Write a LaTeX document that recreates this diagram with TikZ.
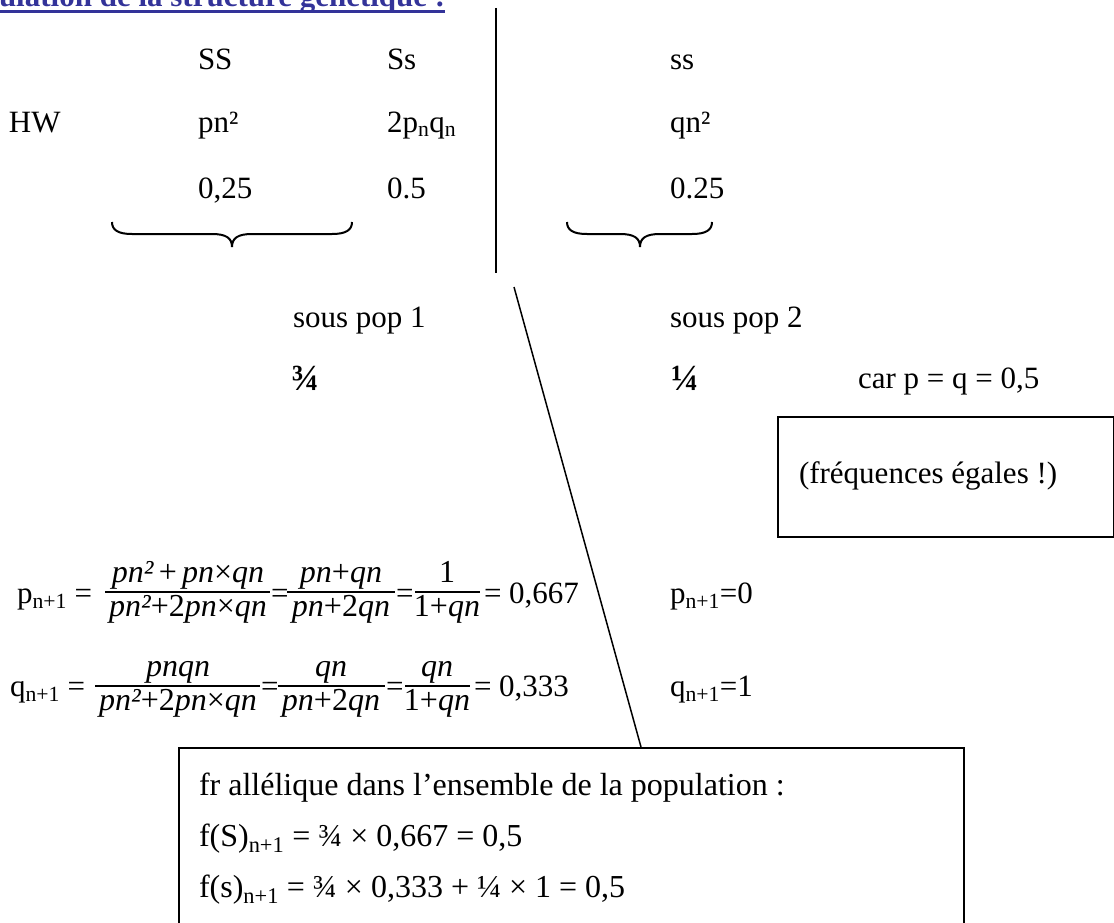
\documentclass[tikz,border=0pt]{standalone}
\usepackage{fontspec}
\setmainfont{Liberation Serif}
\definecolor{titleblue}{RGB}{51,51,153}
\tikzset{
  txt/.style={anchor=base west, inner sep=0pt, outer sep=0pt, font=\fontsize{31}{37}\selectfont},
  btxt/.style={anchor=base west, inner sep=0pt, outer sep=0pt, font=\fontsize{32}{38}\selectfont},
  fractxt/.style={anchor=base west, inner sep=0pt, outer sep=0pt, font=\fontsize{37}{44}\selectfont\bfseries},
  ctxt/.style={anchor=base, inner sep=0pt, outer sep=0pt, font=\fontsize{32}{38}\selectfont\itshape},
  fracbar/.style={line width=1.3pt},
  rule/.style={line width=2pt},
  thinrule/.style={line width=1.5pt},
  bracestyle/.style={line width=2pt},
  boxstyle/.style={draw, line width=2pt, inner sep=0pt, anchor=north west}
}
\begin{document}
\begin{tikzpicture}[x=1pt,y=-1pt]
\useasboundingbox (0,0) rectangle (1114,923);
\clip (0,0) rectangle (1114,923);

% title (cut at the top)
\node[txt, font=\fontsize{31}{37}\selectfont\bfseries, text=titleblue] (title) at (-1,7) {ulation de la structure génétique :};
\draw[titleblue, line width=2.6pt] ([yshift=-4.5pt]title.base west) -- ([yshift=-4.5pt]title.base east);

% vertical separator
\coordinate (vtop) at (496,8);
\coordinate (vbot) at (496,273);
\draw[rule] (vtop) -- (vbot);

% genotype table
\node[txt] (SS) at (198,70) {SS};
\node[txt] (Ss) at (387,70) {Ss};
\node[txt] (ss) at (670,70) {ss};
\node[txt] (HW) at (9,133) {HW};
\node[txt] (pn2) at (198,133) {pn²};
\node[txt] (2pq) at (387,133) {2p\textsubscript{n}q\textsubscript{n}};
\node[txt] (qn2) at (670,133) {qn²};
\node[txt] (v1) at (198,198) {0,25};
\node[txt] (v2) at (387,198) {0.5};
\node[txt] (v3) at (670,198) {0.25};

% braces
\draw[bracestyle] (112,222) .. controls (112,230) and (118,234) .. (132,234) -- (212,234)
  .. controls (226,234) and (232,238) .. (232,247)
  .. controls (232,238) and (238,234) .. (252,234) -- (332,234)
  .. controls (346,234) and (352,230) .. (352,222);
\draw[bracestyle] (567,222) .. controls (567,230) and (573,234) .. (587,234) -- (620,234)
  .. controls (634,234) and (640,238) .. (640,247)
  .. controls (640,238) and (646,234) .. (660,234) -- (692,234)
  .. controls (706,234) and (712,230) .. (712,222);

% sub-populations
\node[txt] (sp1) at (293,327) {sous pop 1};
\node[txt] (sp2) at (670,327) {sous pop 2};
\node[fractxt] (f34) at (291,390) {¾};
\node[fractxt] (f14) at (671,390) {¼};
\node[txt] (car) at (858,388) {car p = q = 0,5};

\node[boxstyle, minimum width=336pt, minimum height=120pt] (box1) at (777,416) {};
\node[txt] (freq) at (799,483) {(fréquences égales !)};

% p_{n+1} row
\node[txt] (pl) at (17,603) {p\textsubscript{n+1} =};
\coordinate (pa1) at (105,592); \coordinate (pb1) at (270,592);
\draw[fracbar] (pa1) -- (pb1);
\node[ctxt] (pn1) at (188,582) {pn²\,\upshape+\,\itshape pn\upshape×\itshape qn};
\node[ctxt] (pd1) at (188,616) {pn²\upshape+2\itshape pn\upshape×\itshape qn};
\node[txt] (pe1) at (271,603) {=};
\coordinate (pa2) at (287,592); \coordinate (pb2) at (395,592);
\draw[fracbar] (pa2) -- (pb2);
\node[ctxt] (pn2) at (341,582) {pn\upshape+\itshape qn};
\node[ctxt] (pd2) at (341,616) {pn\upshape+2\itshape qn};
\node[txt] (pe2) at (396,603) {=};
\coordinate (pa3) at (415,592); \coordinate (pb3) at (480,592);
\draw[fracbar] (pa3) -- (pb3);
\node[ctxt] (pn3) at (447,582) {\upshape 1};
\node[ctxt] (pd3) at (447,616) {\upshape 1+\itshape qn};
\node[txt] (pr) at (484,603) {= 0,667};
\node[txt] (p0) at (670,603) {p\textsubscript{n+1}=0};

% q_{n+1} row
\node[txt] (ql) at (10,696) {q\textsubscript{n+1} =};
\coordinate (qa1) at (95,686); \coordinate (qb1) at (260,686);
\draw[fracbar] (qa1) -- (qb1);
\node[ctxt] (qn1) at (178,676) {pnqn};
\node[ctxt] (qd1) at (178,710) {pn²\upshape+2\itshape pn\upshape×\itshape qn};
\node[txt] (qe1) at (261,696) {=};
\coordinate (qa2) at (278,686); \coordinate (qb2) at (385,686);
\draw[fracbar] (qa2) -- (qb2);
\node[ctxt] (qn2) at (331,676) {qn};
\node[ctxt] (qd2) at (331,710) {pn\upshape+2\itshape qn};
\node[txt] (qe2) at (386,696) {=};
\coordinate (qa3) at (405,686); \coordinate (qb3) at (470,686);
\draw[fracbar] (qa3) -- (qb3);
\node[ctxt] (qn3) at (437,676) {qn};
\node[ctxt] (qd3) at (437,710) {\upshape 1+\itshape qn};
\node[txt] (qr) at (474,696) {= 0,333};
\node[txt] (q1) at (670,696) {q\textsubscript{n+1}=1};

% bottom box
\node[boxstyle, minimum width=785pt, minimum height=230pt] (box2) at (178,747) {};
\node[btxt] (b1) at (199,795) {fr allélique dans l’ensemble de la population :};
\node[btxt] (b2) at (199,846) {f(S)\textsubscript{n+1} = ¾ × 0,667 = 0,5};
\node[btxt] (b3) at (199,897) {f(s)\textsubscript{n+1} = ¾ × 0,333 + ¼ × 1 = 0,5};

% diagonal separator
\coordinate (dtop) at (514,287);
\draw[thinrule] (dtop) -- (box2.north -| 641,0);
\end{tikzpicture}
\end{document}
